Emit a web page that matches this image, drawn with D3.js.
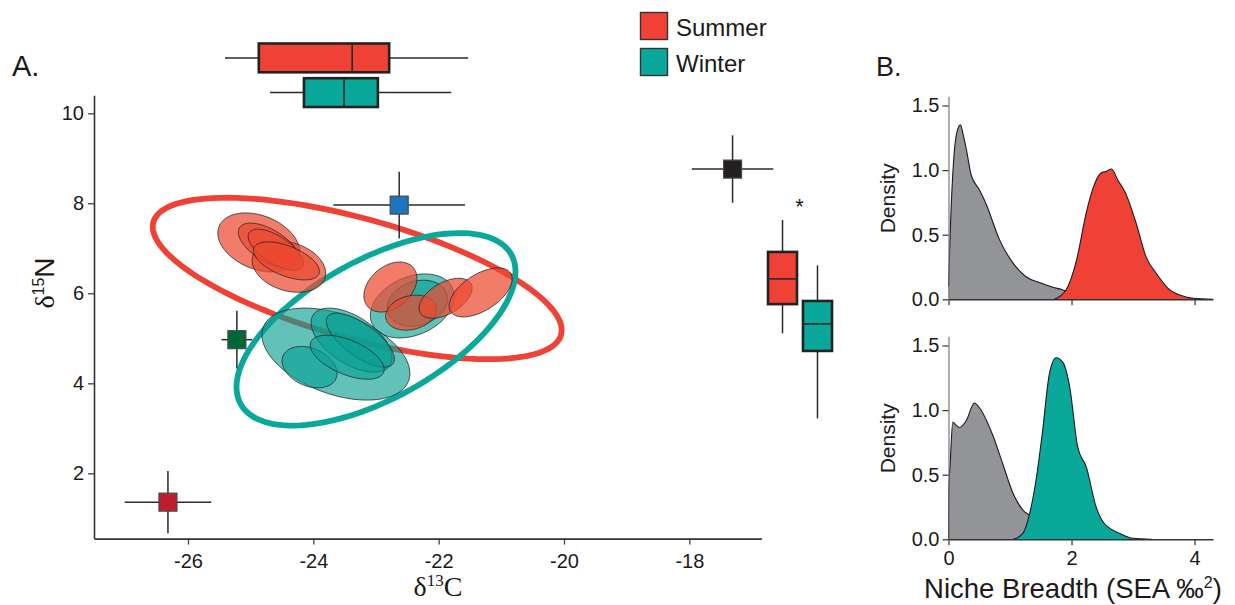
<!DOCTYPE html>
<html>
<head>
<meta charset="utf-8">
<script src="https://cdn.jsdelivr.net/npm/d3@7"></script>
<style>
  html, body { margin: 0; padding: 0; background: #fff; }
  svg { display: block; font-family: "Liberation Sans", Arial, sans-serif; }
</style>
</head>
<body>
<svg id="fig" width="1235" height="605"></svg>
<script>
// ---------- data ----------
const seasons = ["Summer", "Winter"];

// Standard ellipses for each season (centre, SD of each isotope, correlation)
const seasonC   = [-23.30, -23.00];
const seasonN   = [6.33, 5.20];
const seasonSdC = [3.263, 2.226];
const seasonSdN = [1.794, 2.139];
const seasonRho = [-0.64, 0.60];

// Individual standard ellipses
const indSeason = ["Summer","Summer","Summer","Summer","Summer","Summer","Summer","Summer","Summer",
                   "Winter","Winter","Winter","Winter","Winter","Winter","Winter"];
const indC   = [-24.87, -24.39, -24.71, -24.60, -24.43, -22.77, -22.44, -21.89, -21.33,
                -22.42, -22.34, -23.64, -23.39, -23.25, -24.06, -23.46];
const indN   = [7.13, 6.59, 7.06, 6.97, 6.72, 6.14, 5.57, 5.89, 6.02,
                5.72, 5.78, 4.65, 4.96, 4.96, 4.36, 4.58];
const indSdC = [0.654, 0.586, 0.488, 0.439, 0.527, 0.423, 0.407, 0.423, 0.503,
                0.670, 0.479, 1.181, 0.646, 0.543, 0.439, 0.590];
const indSdN = [0.656, 0.567, 0.500, 0.456, 0.422, 0.556, 0.389, 0.444, 0.544,
                0.711, 0.511, 1.022, 0.711, 0.600, 0.460, 0.489];
const indRho = [-0.32, -0.25, -0.60, -0.65, -0.55, 0.35, 0.20, 0.50, 0.55,
                0.30, 0.20, -0.42, -0.55, -0.70, -0.30, -0.55];

// Prey sources: mean +/- SD
const srcC   = [-26.32, -25.22, -22.63, -17.31];
const srcN   = [1.36, 4.97, 7.96, 8.76];
const srcSdC = [0.69, 0.245, 1.05, 0.65];
const srcSdN = [0.69, 0.64, 0.74, 0.75];
const srcFill = ["#be1e2d", "#006837", "#1c75bc", "#231f20"];

// Marginal box plots: [lower whisker, Q1, median, Q3, upper whisker]
const boxC = [[-25.41, -24.87, -23.38, -22.79, -21.53],
              [-24.69, -24.15, -23.51, -22.97, -21.80]];
const boxN = [[5.11, 5.76, 6.32, 6.92, 7.63],
              [3.22, 4.72, 5.32, 5.83, 6.62]];

// Axis ticks
const ticksC = [-26, -24, -22, -20, -18];
const ticksN = [2, 4, 6, 8, 10];
const ticksSEA = [0, 2, 4];
const ticksDens = [0, 0.5, 1.0, 1.5];

// Posterior densities of niche breadth (SEA, per mil squared)
const nbSummerGreyX = [0, 0.03, 0.08, 0.14, 0.195, 0.24, 0.29, 0.37, 0.50, 0.61, 0.83, 1.05, 1.26, 1.48, 1.70, 1.86, 2.05, 2.30];
const nbSummerGreyY = [0.10, 0.55, 1.05, 1.30, 1.35, 1.27, 1.16, 0.96, 0.85, 0.74, 0.46, 0.28, 0.175, 0.13, 0.093, 0.072, 0.03, 0];
const nbSummerX = [1.72, 1.91, 2.08, 2.24, 2.35, 2.48, 2.56, 2.65, 2.75, 2.88, 3.05, 3.21, 3.38, 3.57, 3.76, 3.98, 4.30];
const nbSummerY = [0, 0.072, 0.30, 0.67, 0.86, 0.977, 0.99, 1.008, 0.925, 0.82, 0.59, 0.33, 0.20, 0.085, 0.033, 0.008, 0];

const nbWinterGreyX = [0, 0.005, 0.03, 0.07, 0.11, 0.18, 0.29, 0.42, 0.50, 0.72, 0.88, 1.05, 1.21, 1.34, 1.45, 1.60];
const nbWinterGreyY = [0, 0.355, 0.61, 0.908, 0.89, 0.865, 0.92, 1.055, 1.02, 0.805, 0.587, 0.355, 0.226, 0.175, 0.10, 0];
const nbWinterX = [1.05, 1.21, 1.32, 1.43, 1.53, 1.64, 1.75, 1.86, 1.97, 2.10, 2.24, 2.40, 2.53, 2.58, 2.78, 3.00, 3.30];
const nbWinterY = [0, 0.046, 0.20, 0.48, 0.84, 1.28, 1.405, 1.37, 1.18, 0.715, 0.56, 0.25, 0.124, 0.10, 0.046, 0.008, 0];

// ---------- styling ----------
const colSummer = "#ef4136";
const colWinter = "#0aa89b";
const seasonCol = { Summer: colSummer, Winter: colWinter };
const indFill = { Summer: "#ec4a30", Winter: "#0a9f93" };
const axisCol = "#333";
const textCol = "#1a1a1a";

const svg = d3.select("#fig");

// ---------- panel A ----------
const x = d3.scaleLinear().domain([-27.5, -16.85]).range([94, 761.4]);
const y = d3.scaleLinear().domain([0.55, 10.4]).range([538.6, 95.3]);

function styleAxis(g) {
  g.selectAll(".domain").attr("stroke", axisCol).attr("stroke-width", 1.6);
  g.selectAll(".tick line").attr("stroke", axisCol).attr("stroke-width", 1.2);
  g.selectAll(".tick text").attr("fill", textCol).style("font-size", "20px")
    .style("font-family", "'Liberation Sans', Arial, sans-serif");
}

const plain = d => String(d);   // hyphen-minus for negative labels

const gx = svg.append("g").attr("transform", `translate(0,${y.range()[0]})`)
  .call(d3.axisBottom(x).tickValues(ticksC).tickFormat(plain).tickSize(6).tickPadding(9).tickSizeOuter(0));
styleAxis(gx);
const gy = svg.append("g").attr("transform", `translate(${x.range()[0]},0)`)
  .call(d3.axisLeft(y).tickValues(ticksN).tickFormat(plain).tickSize(6).tickPadding(4).tickSizeOuter(0));
styleAxis(gy);

// ellipse path from centre, SDs and correlation, mapped through the scales
function ellipsePath(cx, cy, sx, sy, rho) {
  const pts = d3.range(0, 121).map(i => {
    const t = i / 120 * 2 * Math.PI;
    const dx = sx * Math.cos(t);
    const dy = sy * (rho * Math.cos(t) + Math.sqrt(1 - rho * rho) * Math.sin(t));
    return [x(cx + dx), y(cy + dy)];
  });
  return d3.line().curve(d3.curveLinearClosed)(pts);
}

// season ellipses (thick outlines)
const gBig = svg.append("g");
seasons.forEach((s, i) => {
  gBig.append("path")
    .attr("d", ellipsePath(seasonC[i], seasonN[i], seasonSdC[i], seasonSdN[i], seasonRho[i]))
    .attr("fill", "none")
    .attr("stroke", seasonCol[s])
    .attr("stroke-width", 5.8);
});

// individual ellipses: winter first, summer above
const gInd = svg.append("g");
["Winter", "Summer"].forEach(s => {
  indSeason.forEach((ss, i) => {
    if (ss !== s) return;
    gInd.append("path")
      .attr("d", ellipsePath(indC[i], indN[i], indSdC[i], indSdN[i], indRho[i]))
      .attr("fill", indFill[s])
      .attr("fill-opacity", s === "Summer" ? 0.72 : 0.64)
      .attr("stroke", "#222")
      .attr("stroke-opacity", 0.85)
      .attr("stroke-width", 0.9);
  });
});

// sources with error bars
const gSrc = svg.append("g");
srcC.forEach((c, i) => {
  const n = srcN[i];
  gSrc.append("line").attr("x1", x(c - srcSdC[i])).attr("x2", x(c + srcSdC[i]))
    .attr("y1", y(n)).attr("y2", y(n)).attr("stroke", "#2a2a2a").attr("stroke-width", 1.5);
  gSrc.append("line").attr("x1", x(c)).attr("x2", x(c))
    .attr("y1", y(n - srcSdN[i])).attr("y2", y(n + srcSdN[i])).attr("stroke", "#2a2a2a").attr("stroke-width", 1.5);
  const sz = 18;
  gSrc.append("rect").attr("x", x(c) - sz / 2).attr("y", y(n) - sz / 2)
    .attr("width", sz).attr("height", sz)
    .attr("fill", srcFill[i]).attr("stroke", "#4a4a4a").attr("stroke-width", 1.2);
});

// marginal box plots
function drawBox(g, stats, scale, pos, bw, horizontal, color) {
  const [lo, q1, med, q3, hi] = stats.map(scale);
  const line = (a1, b1, a2, b2, w) => g.append("line")
    .attr("x1", horizontal ? a1 : b1).attr("y1", horizontal ? b1 : a1)
    .attr("x2", horizontal ? a2 : b2).attr("y2", horizontal ? b2 : a2)
    .attr("stroke", "#2a2a2a").attr("stroke-width", w);
  line(lo, pos, Math.min(q1, q3), pos, 1.5);
  line(Math.max(q1, q3), pos, hi, pos, 1.5);
  const a0 = Math.min(q1, q3), a1 = Math.max(q1, q3);
  g.append("rect")
    .attr("x", horizontal ? a0 : pos - bw / 2)
    .attr("y", horizontal ? pos - bw / 2 : a0)
    .attr("width", horizontal ? a1 - a0 : bw)
    .attr("height", horizontal ? bw : a1 - a0)
    .attr("fill", color).attr("stroke", "#222").attr("stroke-width", 2.6);
  line(med, pos - bw / 2, med, pos + bw / 2, 1.6);
}

const topBand = d3.scaleBand().domain(seasons).range([43.5, 107]).paddingInner(0.17);
const sideBand = d3.scaleBand().domain(seasons).range([768, 832]).paddingInner(0.17);
const gBox = svg.append("g");
seasons.forEach((s, i) => {
  drawBox(gBox, boxC[i], x, topBand(s) + topBand.bandwidth() / 2, topBand.bandwidth(), true, seasonCol[s]);
  drawBox(gBox, boxN[i], y, sideBand(s) + sideBand.bandwidth() / 2, sideBand.bandwidth(), false, seasonCol[s]);
});
svg.append("text").attr("x", 799.5).attr("y", 214).attr("text-anchor", "middle")
  .attr("fill", textCol).style("font-size", "22px").text("*");

// axis titles for panel A
const yTitle = svg.append("text")
  .attr("transform", "translate(54,283) rotate(-90)")
  .attr("text-anchor", "middle").attr("fill", textCol).style("font-size", "28px");
yTitle.append("tspan").style("font-family", "'Liberation Serif', serif").text("δ");
yTitle.append("tspan").attr("dy", -10).style("font-size", "16px").text("15");
yTitle.append("tspan").attr("dy", 10).text("N");

const xTitle = svg.append("text")
  .attr("x", 438).attr("y", 596)
  .attr("text-anchor", "middle").attr("fill", textCol)
  .style("font-size", "28px").style("font-family", "'Liberation Serif', serif");
xTitle.append("tspan").text("δ");
xTitle.append("tspan").attr("dy", -10).style("font-size", "17px").text("13");
xTitle.append("tspan").attr("dy", 10).text("C");

svg.append("text").attr("x", 12).attr("y", 76).attr("fill", textCol)
  .style("font-size", "29px").text("A.");

// legend
const gLeg = svg.append("g");
seasons.forEach((s, i) => {
  gLeg.append("rect").attr("x", 640.5).attr("y", 12.5 + i * 36).attr("width", 27).attr("height", 27)
    .attr("fill", seasonCol[s]).attr("stroke", "#333").attr("stroke-width", 1.4);
  gLeg.append("text").attr("x", 676).attr("y", 35.5 + i * 36).attr("fill", textCol)
    .style("font-size", "24px").text(s);
});

// ---------- panel B ----------
svg.append("text").attr("x", 876).attr("y", 76).attr("fill", textCol)
  .style("font-size", "27px").text("B.");

const xs = d3.scaleLinear().domain([0, 4.3]).range([948.5, 1213]);
const panels = [
  { y0: 299.3, gx: nbSummerGreyX, gy: nbSummerGreyY, sx: nbSummerX, sy: nbSummerY, col: colSummer, labels: false },
  { y0: 539.3, gx: nbWinterGreyX, gy: nbWinterGreyY, sx: nbWinterX, sy: nbWinterY, col: colWinter, labels: true }
];

panels.forEach(p => {
  const ys = d3.scaleLinear().domain([0, 1.57]).range([p.y0, p.y0 - 1.57 * 129.2]);
  const g = svg.append("g");
  const area = d3.area().x(d => xs(d[0])).y0(ys(0)).y1(d => ys(d[1])).curve(d3.curveMonotoneX);
  const line = d3.line().x(d => xs(d[0])).y(d => ys(d[1])).curve(d3.curveMonotoneX);
  const grey = d3.zip(p.gx, p.gy);
  const col = d3.zip(p.sx, p.sy);
  g.append("path").attr("d", area(grey)).attr("fill", "#929497");
  g.append("path").attr("d", line(grey)).attr("fill", "none").attr("stroke", "#1a1a1a").attr("stroke-width", 1.1);
  g.append("path").attr("d", area(col)).attr("fill", p.col);
  g.append("path").attr("d", line(col)).attr("fill", "none").attr("stroke", "#1a1a1a").attr("stroke-width", 1.1);

  const ax = g.append("g").attr("transform", `translate(0,${p.y0})`)
    .call(d3.axisBottom(xs).tickValues(ticksSEA).tickSize(6).tickPadding(6).tickSizeOuter(0)
      .tickFormat(p.labels ? d3.format("d") : () => ""));
  styleAxis(ax);
  ax.selectAll(".domain").attr("stroke-width", 1.5);
  const ay = g.append("g").attr("transform", `translate(${xs.range()[0]},0)`)
    .call(d3.axisLeft(ys).tickValues(ticksDens).tickSize(6).tickPadding(3).tickSizeOuter(0)
      .tickFormat(d3.format(".1f")));
  styleAxis(ay);
  ay.selectAll(".domain").attr("stroke", "#777").attr("stroke-width", 1.2);

  g.append("text").attr("transform", `translate(895,${p.y0 - 101}) rotate(-90)`)
    .attr("text-anchor", "middle").attr("fill", textCol).style("font-size", "21px").text("Density");
});

const nb = svg.append("text").attr("x", 1073).attr("y", 598).attr("text-anchor", "middle")
  .attr("fill", textCol).style("font-size", "27.5px");
nb.append("tspan").text("Niche Breadth (SEA ‰");
nb.append("tspan").attr("dy", -10).style("font-size", "16px").text("2");
nb.append("tspan").attr("dy", 10).text(")");
</script>
</body>
</html>
